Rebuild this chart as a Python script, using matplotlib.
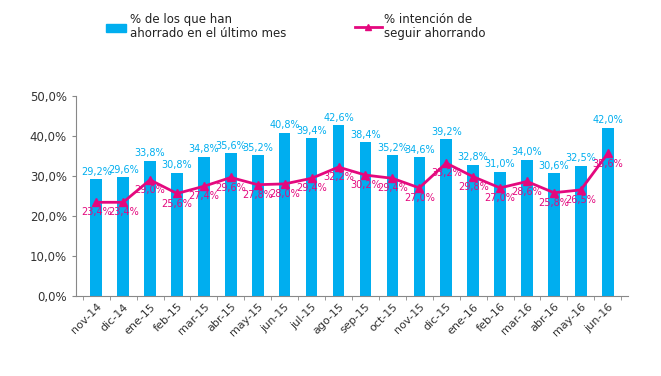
import matplotlib.pyplot as plt
import numpy as np

months = ["nov-14", "dic-14", "ene-15", "feb-15", "mar-15", "abr-15", "may-15",
          "jun-15", "jul-15", "ago-15", "sep-15", "oct-15", "nov-15", "dic-15",
          "ene-16", "feb-16", "mar-16", "abr-16", "may-16", "jun-16"]
ahorrado = [29.2, 29.6, 33.8, 30.8, 34.8, 35.6, 35.2, 40.8, 39.4, 42.6,
            38.4, 35.2, 34.6, 39.2, 32.8, 31.0, 34.0, 30.6, 32.5, 42.0]
intencion = [23.4, 23.4, 29.0, 25.6, 27.4, 29.6, 27.8, 28.0, 29.4, 32.2,
             30.2, 29.4, 27.0, 33.2, 29.8, 27.0, 28.6, 25.8, 26.5, 35.6]

blue = "#00AEEF"
pink = "#E4087E"

def pct(v):
    return f"{v:.1f}%".replace(".", ",")

fig = plt.figure(figsize=(6.61, 3.76), dpi=100)
ax = fig.add_axes([0.115, 0.213, 0.835, 0.532])

x = np.arange(len(months))
ax.bar(x, ahorrado, width=0.43, color=blue, zorder=2)
ax.plot(x, intencion, color=pink, lw=2, marker="^", ms=6, zorder=3)

for xi, v in zip(x, ahorrado):
    ax.text(xi, v + 0.6, pct(v), color=blue, fontsize=7, ha="center", va="bottom")
for xi, v in zip(x, intencion):
    ax.text(xi, v - 1.3, pct(v), color=pink, fontsize=7, ha="center", va="top", zorder=4)

ax.set_ylim(0, 50)
ax.set_xlim(-0.75, 19.75)
ax.set_yticks(range(0, 51, 10))
ax.set_yticklabels([pct(t) for t in range(0, 51, 10)], fontsize=8.5, color="#333333")
ax.set_xticks(x)
ax.set_xticklabels(months, rotation=45, ha="right", rotation_mode="anchor", fontsize=8, color="#333333")
ax.set_xticks(np.arange(-0.5, 20, 1), minor=True)
ax.tick_params(axis="x", which="major", length=0, pad=4)
ax.tick_params(axis="x", which="minor", length=3, color="#888888")
ax.tick_params(axis="y", length=3, color="#888888")
for s in ["top", "right"]:
    ax.spines[s].set_visible(False)
for s in ["left", "bottom"]:
    ax.spines[s].set_color("#888888")

# legend drawn manually
fig.patches.append(plt.Rectangle((0.16, 0.915), 0.03, 0.022, transform=fig.transFigure,
                                 color=blue, figure=fig))
fig.text(0.197, 0.93, "% de los que han\nahorrado en el último mes", fontsize=8.5,
         va="center", ha="left", color="#222222", linespacing=1.1)
fig.add_artist(plt.Line2D([0.537, 0.578], [0.928, 0.928], color=pink, lw=2,
                          transform=fig.transFigure))
fig.add_artist(plt.Line2D([0.557], [0.928], color=pink, marker="^", ms=5,
                          transform=fig.transFigure))
fig.text(0.581, 0.93, "% intención de\nseguir ahorrando", fontsize=8.5,
         va="center", ha="left", color="#222222", linespacing=1.1)

fig.savefig("out.png", dpi=100)
